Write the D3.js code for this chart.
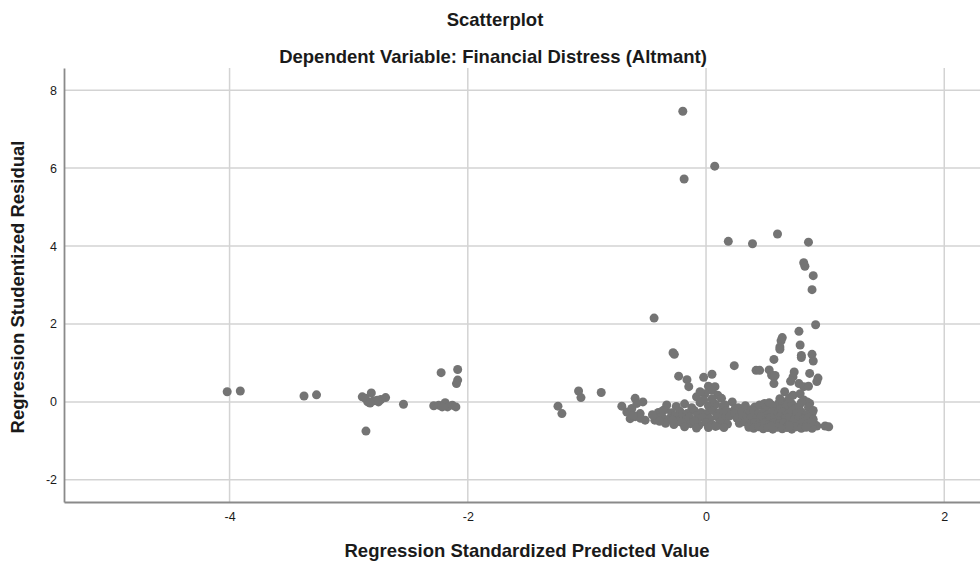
<!DOCTYPE html>
<html>
<head>
<meta charset="utf-8">
<script src="https://cdn.jsdelivr.net/npm/d3@7"></script>
<style>
  body { margin: 0; background: #fff; }
  text { font-family: "Liberation Sans", Arial, sans-serif; fill: #1a1a1a; }
  .title { font-weight: bold; }
</style>
</head>
<body>
<div id="chart"></div>
<script>
// chart values
var xTicks = [-4, -2, 0, 2];
var yTicks = [-2, 0, 2, 4, 6, 8];

// [standardized predicted value, studentized residual]
var sparsePoints = [
  [-4.02, 0.26], [-3.91, 0.28], [-3.375, 0.15], [-3.27, 0.18],
  [-2.886, 0.13], [-2.81, 0.23], [-2.84, 0.0], [-2.79, 0.03], [-2.75, 0.0], [-2.69, 0.11],
  [-2.73, 0.06], [-2.86, 0.09], [-2.76, 0.04], [-2.82, -0.03], [-2.855, -0.75], [-2.54, -0.06],
  [-2.286, -0.10], [-2.244, -0.085], [-2.19, -0.02], [-2.17, -0.13], [-2.13, -0.085], [-2.10, -0.13],
  [-2.215, -0.13], [-2.224, 0.75], [-2.085, 0.83], [-2.085, 0.56], [-2.095, 0.47],
  [-1.243, -0.11], [-1.21, -0.30], [-1.07, 0.28], [-1.05, 0.11], [-0.88, 0.24]
];

var leftCluster = [
  [-0.707, -0.11], [-0.665, -0.26], [-0.623, -0.17], [-0.595, 0.09], [-0.58, -0.04], [-0.53, 0.0],
  [-0.553, -0.30], [-0.511, -0.47], [-0.637, -0.43], [-0.595, -0.38], [-0.55, -0.42], [-0.61, -0.35],
  [-0.43, -0.47], [-0.344, -0.19]
];

var upperPoints = [
  [-0.195, 7.46], [0.073, 6.05], [-0.184, 5.72], [0.187, 4.12], [0.39, 4.06], [0.60, 4.31], [0.86, 4.10],
  [0.82, 3.57], [0.83, 3.48], [0.90, 3.24], [0.89, 2.88], [0.92, 1.98], [-0.436, 2.15],
  [-0.277, 1.26], [-0.266, 1.22], [0.78, 1.81], [0.64, 1.65], [0.63, 1.57], [0.62, 1.41], [0.62, 1.35],
  [0.79, 1.46], [0.80, 1.19], [0.80, 1.14], [0.89, 1.22], [0.90, 1.05], [0.57, 1.09], [0.237, 0.93],
  [0.42, 0.81], [0.53, 0.82], [0.55, 0.69], [0.57, 0.64], [0.57, 0.47], [0.45, 0.81], [0.58, 0.68],
  [0.74, 0.77], [0.73, 0.64], [0.71, 0.53], [0.87, 0.73], [0.93, 0.52], [0.94, 0.61],
  [-0.23, 0.66], [-0.16, 0.57], [-0.145, 0.39], [-0.02, 0.63], [0.05, 0.71], [0.02, 0.40], [0.075, 0.39],
  [0.048, 0.30], [-0.08, 0.13], [-0.01, 0.21], [-0.05, 0.26], [0.098, 0.17], [0.13, 0.09], [0.22, 0.0],
  [0.78, 0.47], [0.82, 0.39], [0.86, 0.40], [0.66, 0.26], [0.73, 0.17], [0.79, 0.21],
  [0.87, -0.04], [0.89, -0.30], [1.0, -0.62], [1.03, -0.64], [0.93, -0.62], [0.92, -0.60], [0.89, -0.68]
];

var clusterA = [
  [-0.33, -0.08], [-0.25, -0.12], [-0.18, -0.05], [-0.12, -0.15], [-0.05, -0.02], [0.02, -0.1], [0.08, -0.06],
  [0.14, -0.12], [-0.02, 0.05], [0.05, 0.08], [0.16, -0.08], [0.245, -0.17], [0.19, -0.26], [0.13, -0.34], [0.10, -0.60],
  [-0.40, -0.27], [-0.36, -0.22], [-0.29, -0.28], [-0.22, -0.24], [-0.16, -0.3], [-0.10, -0.22], [-0.04, -0.27],
  [0.01, -0.3], [0.06, -0.22], [0.11, -0.28], [0.17, -0.24], [-0.07, -0.35],
  [-0.42, -0.42], [-0.37, -0.38], [-0.31, -0.44], [-0.26, -0.37], [-0.2, -0.42], [-0.14, -0.39], [-0.08, -0.45],
  [-0.03, -0.4], [0.03, -0.44], [0.09, -0.38], [0.15, -0.43], [0.2, -0.36], [-0.17, -0.47], [-0.24, -0.49],
  [-0.34, -0.55], [-0.27, -0.58], [-0.21, -0.52], [-0.13, -0.56], [-0.06, -0.6], [0.0, -0.53], [0.05, -0.58],
  [0.12, -0.52], [0.18, -0.57], [-0.1, -0.5],
  [-0.18, -0.64], [-0.08, -0.67], [0.02, -0.66], [0.08, -0.63], [0.15, -0.66], [-0.28, -0.47], [-0.45, -0.33], [-0.39, -0.5]
];

var clusterB = [
  [0.27, -0.15], [0.33, -0.1], [0.38, -0.2], [0.41, -0.13], [0.45, -0.08], [0.49, -0.04], [0.5, -0.15], [0.55, -0.08],
  [0.58, -0.12], [0.61, -0.04], [0.63, -0.17], [0.66, 0.0], [0.68, -0.1], [0.72, -0.05], [0.75, -0.17], [0.78, -0.12],
  [0.82, 0.05], [0.85, 0.0], [0.86, -0.14], [0.62, 0.08], [0.7, 0.1], [0.8, -0.02], [0.53, -0.02],
  [0.24, -0.3], [0.3, -0.26], [0.35, -0.32], [0.4, -0.24], [0.44, -0.3], [0.48, -0.27], [0.52, -0.33], [0.56, -0.25],
  [0.6, -0.3], [0.64, -0.26], [0.68, -0.32], [0.72, -0.24], [0.76, -0.3], [0.8, -0.26], [0.84, -0.33], [0.9, -0.22],
  [0.26, -0.42], [0.31, -0.38], [0.34, -0.45], [0.38, -0.4], [0.42, -0.44], [0.46, -0.38], [0.5, -0.43], [0.54, -0.4],
  [0.58, -0.45], [0.62, -0.39], [0.66, -0.44], [0.7, -0.4], [0.74, -0.46], [0.78, -0.39], [0.82, -0.44], [0.86, -0.4],
  [0.9, -0.45], [0.47, -0.49], [0.61, -0.5],
  [0.28, -0.55], [0.33, -0.52], [0.37, -0.57], [0.41, -0.53], [0.45, -0.58], [0.49, -0.54], [0.53, -0.59], [0.57, -0.53],
  [0.61, -0.57], [0.65, -0.55], [0.69, -0.6], [0.73, -0.54], [0.77, -0.58], [0.81, -0.53], [0.85, -0.57], [0.88, -0.52],
  [0.36, -0.65], [0.4, -0.68], [0.44, -0.64], [0.48, -0.69], [0.52, -0.66], [0.56, -0.7], [0.6, -0.65], [0.64, -0.69],
  [0.68, -0.66], [0.72, -0.7], [0.76, -0.64], [0.8, -0.68], [0.84, -0.65], [0.55, -0.62], [0.7, -0.62]
];

var allPoints = sparsePoints.concat(leftCluster, upperPoints, clusterA, clusterB);

var svgWidth = 980;
var svgHeight = 561;

var margin = { top: 68, right: 0, bottom: 59, left: 64 };
var width = svgWidth - margin.left - margin.right;
var height = svgHeight - margin.top - margin.bottom;

var svg = d3.select("#chart")
  .append("svg")
  .attr("width", svgWidth)
  .attr("height", svgHeight);

var chartGroup = svg.append("g")
  .attr("transform", `translate(${margin.left}, ${margin.top})`);

var xScale = d3.scaleLinear()
  .domain([-5.39, 2.30])
  .range([0, width]);

var yScale = d3.scaleLinear()
  .domain([-2.57, 8.57])
  .range([height, 0]);

// gridlines
chartGroup.append("g")
  .selectAll("line")
  .data(xTicks)
  .enter()
  .append("line")
  .attr("x1", d => xScale(d))
  .attr("x2", d => xScale(d))
  .attr("y1", 0)
  .attr("y2", height)
  .attr("stroke", "#d3d3d3")
  .attr("stroke-width", 1.5);

chartGroup.append("g")
  .selectAll("line")
  .data(yTicks)
  .enter()
  .append("line")
  .attr("x1", 0)
  .attr("x2", width)
  .attr("y1", d => yScale(d))
  .attr("y2", d => yScale(d))
  .attr("stroke", "#d3d3d3")
  .attr("stroke-width", 1.5);

// axes (plain hyphen for negatives, like the original)
var bottomAxis = d3.axisBottom(xScale).tickValues(xTicks).tickSize(0).tickPadding(10)
  .tickFormat(d => String(d));
var leftAxis = d3.axisLeft(yScale).tickValues(yTicks).tickSize(0).tickPadding(7)
  .tickFormat(d => String(d));

var xAxisG = chartGroup.append("g")
  .attr("transform", `translate(0, ${height})`)
  .call(bottomAxis);

var yAxisG = chartGroup.append("g")
  .call(leftAxis);

[xAxisG, yAxisG].forEach(function(g) {
  g.select(".domain").attr("stroke", "#8a8a8a").attr("stroke-width", 1.8);
  g.selectAll(".tick text")
    .attr("fill", "#1a1a1a")
    .style("font-size", "12.5px")
    .style("font-family", "Liberation Sans, Arial, sans-serif");
});

// points
chartGroup.append("g")
  .selectAll("circle")
  .data(allPoints)
  .enter()
  .append("circle")
  .attr("cx", d => xScale(d[0]))
  .attr("cy", d => yScale(d[1]))
  .attr("r", 4.5)
  .attr("fill", "#747474");

// titles
svg.append("text")
  .attr("class", "title")
  .attr("x", 495)
  .attr("y", 26)
  .attr("text-anchor", "middle")
  .style("font-size", "18.5px")
  .text("Scatterplot");

svg.append("text")
  .attr("class", "title")
  .attr("x", 493)
  .attr("y", 63)
  .attr("text-anchor", "middle")
  .style("font-size", "18.5px")
  .text("Dependent Variable: Financial Distress (Altmant)");

svg.append("text")
  .attr("class", "title")
  .attr("x", 527)
  .attr("y", 557)
  .attr("text-anchor", "middle")
  .style("font-size", "18.5px")
  .text("Regression Standardized Predicted Value");

svg.append("text")
  .attr("class", "title")
  .attr("transform", "rotate(-90)")
  .attr("x", -287)
  .attr("y", 24)
  .attr("text-anchor", "middle")
  .style("font-size", "18.5px")
  .text("Regression Studentized Residual");
</script>
</body>
</html>
